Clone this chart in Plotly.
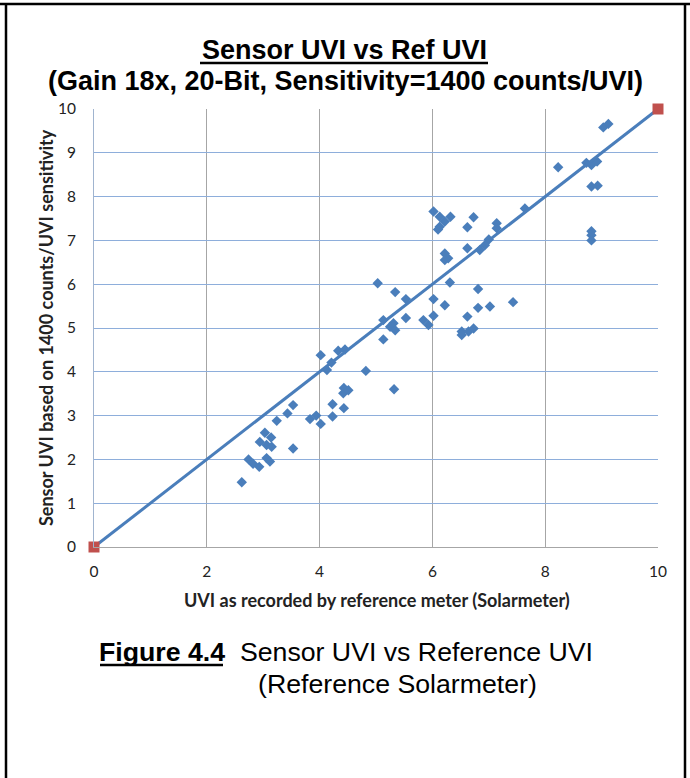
import plotly.graph_objects as go

ref_uvi = [2.62, 2.74, 2.82, 2.93, 3.06, 3.12, 2.94, 3.06, 3.15, 3.03, 3.14, 3.53,
           3.24, 3.43, 3.53, 3.83, 3.94, 4.02, 4.23, 4.23, 4.43, 4.42, 4.43, 4.51,
           5.32, 4.82, 4.13, 4.21, 4.02, 4.33, 4.45, 5.13, 5.03, 5.34, 5.53, 5.13,
           5.25, 5.31, 5.34, 5.53, 5.84, 5.93, 6.02, 6.02, 6.22, 6.31, 6.81, 6.81,
           7.02, 7.43, 6.62, 6.52, 6.64, 6.73, 6.52, 6.02, 6.13, 6.32, 6.22, 6.13,
           6.10, 6.73, 6.62, 7.14, 7.14, 7.64, 7.00, 6.93, 6.84, 6.62, 6.22, 6.28,
           6.22, 8.23, 8.73, 8.82, 8.92, 8.82, 8.93, 8.82, 8.82, 8.82, 9.03, 9.12]
sensor_uvi = [1.48, 2.00, 1.90, 1.83, 2.03, 1.95, 2.40, 2.33, 2.29, 2.61, 2.50, 2.25,
              2.88, 3.05, 3.24, 2.92, 3.00, 2.81, 2.98, 3.26, 3.17, 3.51, 3.63, 3.58,
              3.60, 4.02, 4.04, 4.21, 4.38, 4.48, 4.51, 4.74, 6.02, 5.82, 5.66, 5.18,
              5.03, 5.11, 4.95, 5.23, 5.18, 5.07, 5.28, 5.66, 5.52, 6.04, 5.89, 5.46,
              5.49, 5.59, 5.26, 4.92, 4.92, 4.99, 4.84, 7.66, 7.54, 7.54, 7.43, 7.31,
              7.25, 7.53, 7.30, 7.39, 7.28, 7.73, 7.02, 6.89, 6.78, 6.82, 6.70, 6.59,
              6.55, 8.67, 8.77, 8.72, 8.80, 8.23, 8.25, 7.21, 7.12, 7.00, 9.58, 9.66]

# Ideal 1:1 reference series
ideal_x = [0, 10]
ideal_y = [0, 10]

tick_vals_x = [0, 2, 4, 6, 8, 10]
tick_vals_y = [0, 1, 2, 3, 4, 5, 6, 7, 8, 9, 10]

BLUE = "#4A7EBB"
RED = "#C0504D"

W, H = 690, 778
L, R, T, B = 94, 32, 109, 231
PW, PH = W - L - R, H - T - B


def px(x):
    return (x - L) / PW


def py(y):
    return (H - B - y) / PH


fig = go.Figure()
fig.add_trace(go.Scatter(x=ref_uvi, y=sensor_uvi, mode="markers",
                         marker=dict(symbol="diamond", size=8, color=BLUE,
                                     line=dict(width=0)),
                         cliponaxis=False, showlegend=False))
fig.add_trace(go.Scatter(x=ideal_x, y=ideal_y, mode="lines+markers",
                         line=dict(color=BLUE, width=3),
                         marker=dict(symbol="square", size=11, color=RED),
                         cliponaxis=False, showlegend=False))

tickfont = dict(family="Lato", size=15.5, color="#222")
fig.update_xaxes(range=[0, 10], tickvals=tick_vals_x, showgrid=True,
                 gridcolor="#A6A6A6", gridwidth=1, zeroline=False,
                 showline=True, linecolor="#A6A6A6", linewidth=1,
                 tickfont=tickfont, ticks="", ticklabelstandoff=10)
fig.update_yaxes(range=[0, 10], tickvals=tick_vals_y, showgrid=True,
                 gridcolor="#8EAEDB", gridwidth=1.2, zeroline=False,
                 showline=True, linecolor="#A0B4CF", linewidth=1,
                 tickfont=tickfont, ticks="", ticklabelstandoff=14)

ann = [
    dict(text="<b>Sensor UVI vs Ref UVI</b>", x=px(344), y=py(50),
         font=dict(family="Liberation Sans", size=27, color="black")),
    dict(text="<b>(Gain 18x, 20-Bit, Sensitivity=1400 counts/UVI)</b>",
         x=px(345), y=py(81),
         font=dict(family="Liberation Sans", size=27, color="black")),
    dict(text="<b>UVI as recorded by reference meter (Solarmeter)</b>",
         x=px(377), y=py(600),
         font=dict(family="Lato", size=18, color="#222")),
    dict(text="<b>Sensor UVI based on 1400 counts/UVI sensitivity</b>",
         x=px(46), y=py(328), textangle=-90,
         font=dict(family="Lato", size=18, color="#222")),
    dict(text="<b>Figure 4.4</b>\u00a0\u00a0Sensor UVI vs Reference UVI",
         x=px(346), y=py(652),
         font=dict(family="Liberation Sans", size=26.7, color="black")),
    dict(text="(Reference Solarmeter)", x=px(397), y=py(684),
         font=dict(family="Liberation Sans", size=26.7, color="black")),
]
for a in ann:
    a.update(xref="paper", yref="paper", showarrow=False,
             xanchor="center", yanchor="middle")
    fig.add_annotation(**a)

shapes = [
    # underlines
    dict(x0=px(200), x1=px(488), y0=py(63), y1=py(63)),
    dict(x0=px(100), x1=px(223), y0=py(665), y1=py(665)),
    # frame
    dict(x0=px(0), x1=px(690), y0=py(4), y1=py(4)),
    dict(x0=px(6), x1=px(6), y0=py(4), y1=py(778)),
    dict(x0=px(685), x1=px(685), y0=py(4), y1=py(778)),
]
for s in shapes:
    s.update(type="line", xref="paper", yref="paper",
             line=dict(color="black", width=2.5))
    fig.add_shape(**s)

fig.update_layout(width=W, height=H, margin=dict(l=L, r=R, t=T, b=B),
                  plot_bgcolor="white", paper_bgcolor="white")

fig.write_html("out.html", config={"displayModeBar": False},
               post_script="document.body.style.margin='0';"
                           "document.body.style.overflow='hidden';")
